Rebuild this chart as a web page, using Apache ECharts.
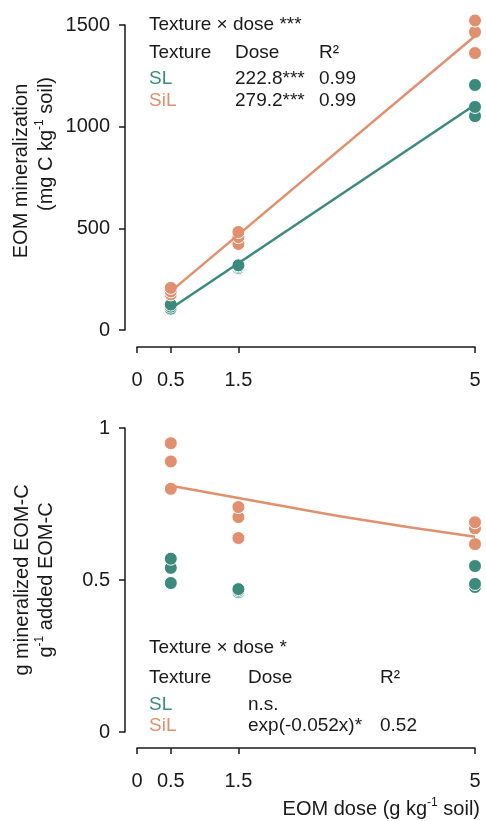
<!DOCTYPE html>
<html>
<head>
<meta charset="utf-8">
<script src="https://cdn.jsdelivr.net/npm/echarts@6/dist/echarts.min.js"></script>
<style>
  html, body { margin: 0; padding: 0; background: #fff; }
  #chart { width: 486px; height: 821px; }
</style>
</head>
<body>
<div id="chart"></div>
<script>
// x positions of the replicates (EOM dose, g/kg soil)
const doses = [0.5, 0.5, 0.5, 1.5, 1.5, 1.5, 5, 5, 5];
const doseTicks = [0, 0.5, 1.5, 5];

// top panel: EOM mineralization (mg C/kg soil)
const minSL = [105, 115, 125, 305, 312, 318, 1052, 1097, 1205];
const minSiL = [175, 190, 207, 423, 457, 482, 1362, 1466, 1522];
const fitMinDose = [0.5, 5];
const fitMinSL = [106, 1108];
const fitMinSiL = [190, 1446];

// bottom panel: g mineralized EOM-C per g added EOM-C
const effSL = [0.49, 0.54, 0.57, 0.46, 0.465, 0.47, 0.477, 0.487, 0.546];
const effSiL = [0.80, 0.89, 0.95, 0.638, 0.707, 0.74, 0.618, 0.67, 0.69];
const fitEffDose = [0.5, 1.5, 3, 5];
const fitEffSiL = [0.81, 0.77, 0.71, 0.642];

// annotation tables
const textures = ['SL', 'SiL'];
const tableHead = ['Texture', 'Dose', 'R²'];
const topTitle = 'Texture × dose ***';
const topDose = ['222.8***', '279.2***'];
const topR2 = ['0.99', '0.99'];
const botTitle = 'Texture × dose *';
const botDose = ['n.s.', 'exp(-0.052x)*'];
const botR2 = ['', '0.52'];

const TEAL = '#3c8a7c';
const ORANGE = '#e0906f';
const INK = '#1a1a1a';
const FONT = '"Liberation Sans", Arial, sans-serif';

const zip = (xs, ys) => ys.map((v, i) => [xs[i], v]);

const chart = echarts.init(document.getElementById('chart'));

function xAxisCfg(gridIndex, offset) {
  return {
    type: 'value', gridIndex, min: 0, max: 5, offset,
    splitLine: { show: false },
    axisLine: { onZero: false, lineStyle: { color: INK, width: 1.5 } },
    axisTick: { customValues: doseTicks, length: 6, lineStyle: { color: INK, width: 1.5 } },
    axisLabel: { customValues: doseTicks, margin: 23, fontSize: 20, fontFamily: FONT, color: INK, formatter: v => String(v) }
  };
}

function yAxisCfg(gridIndex, max, interval) {
  return {
    type: 'value', gridIndex, min: 0, max, interval, offset: 12,
    splitLine: { show: false },
    axisLine: { show: true, onZero: false, lineStyle: { color: INK, width: 1.5 } },
    axisTick: { show: true, length: 6, lineStyle: { color: INK, width: 1.5 } },
    axisLabel: { margin: 15, fontSize: 20, fontFamily: FONT, color: INK, formatter: v => String(v) }
  };
}

function scatter(name, xi, data, color) {
  return {
    name, type: 'scatter', xAxisIndex: xi, yAxisIndex: xi, data, symbolSize: 13, z: 2, clip: false,
    itemStyle: { color, opacity: 1, borderColor: '#fff', borderWidth: 1 }
  };
}

function fitLine(name, xi, data, color) {
  return {
    name, type: 'line', xAxisIndex: xi, yAxisIndex: xi, data, showSymbol: false, smooth: true, z: 3, clip: false,
    lineStyle: { color, width: 2.5 }
  };
}

// small text helper for the annotation tables
function txt(x, y, text, color) {
  return {
    type: 'text', x, y, z: 10,
    style: { text, fill: color || INK, fontSize: 19, fontFamily: FONT, verticalAlign: 'middle' }
  };
}

function table(cols, rows, title, doseCol, r2Col) {
  const out = [txt(cols[0], rows[0], title)];
  tableHead.forEach((h, i) => out.push(txt(cols[i], rows[1], h)));
  textures.forEach((t, i) => {
    out.push(txt(cols[0], rows[2 + i], t, i === 0 ? TEAL : ORANGE));
    out.push(txt(cols[1], rows[2 + i], doseCol[i]));
    if (r2Col[i]) out.push(txt(cols[2], rows[2 + i], r2Col[i]));
  });
  return out;
}

// axis titles (rich text for the -1 superscripts)
const rich = {
  n: { fontSize: 20, fontFamily: FONT, fill: INK, lineHeight: 25 },
  s: { fontSize: 12, fontFamily: FONT, fill: INK, lineHeight: 18, verticalAlign: 'top' }
};
function label(x, y, text, rotate) {
  return {
    type: 'text', x, y, rotation: rotate ? Math.PI / 2 : 0, z: 10,
    style: { text, rich, align: rotate ? 'center' : 'right', verticalAlign: 'middle' }
  };
}

const option = {
  animation: false,
  backgroundColor: '#fff',
  grid: [
    { left: 137, right: 11, top: 25, height: 305, outerBoundsMode: 'none', containLabel: false },
    { left: 137, right: 11, top: 428, height: 304, outerBoundsMode: 'none', containLabel: false }
  ],
  xAxis: [xAxisCfg(0, 17), xAxisCfg(1, 16)],
  yAxis: [yAxisCfg(0, 1500, 500), yAxisCfg(1, 1, 0.5)],
  series: [
    scatter('SL', 0, zip(doses, minSL), TEAL),
    scatter('SiL', 0, zip(doses, minSiL), ORANGE),
    fitLine('SL fit', 0, zip(fitMinDose, fitMinSL), TEAL),
    fitLine('SiL fit', 0, zip(fitMinDose, fitMinSiL), ORANGE),
    scatter('SL', 1, zip(doses, effSL), TEAL),
    scatter('SiL', 1, zip(doses, effSiL), ORANGE),
    fitLine('SiL fit', 1, zip(fitEffDose, fitEffSiL), ORANGE)
  ],
  graphic: [
    ...table([149, 235, 319], [25, 53, 79, 101], topTitle, topDose, topR2),
    ...table([149, 248, 380], [648, 678, 705, 726], botTitle, botDose, botR2),
    label(21, 171, '{n|EOM mineralization}', true),
    label(46, 144, '{n|(mg C kg}{s|-1}{n| soil)}', true),
    label(22, 580, '{n|g mineralized EOM-C}', true),
    label(46, 580, '{n|g}{s|-1}{n| added EOM-C}', true),
    label(480, 809, '{n|EOM dose (g kg}{s|-1}{n| soil)}', false)
  ]
};

chart.setOption(option);
window.addEventListener('resize', () => chart.resize());
</script>
</body>
</html>
